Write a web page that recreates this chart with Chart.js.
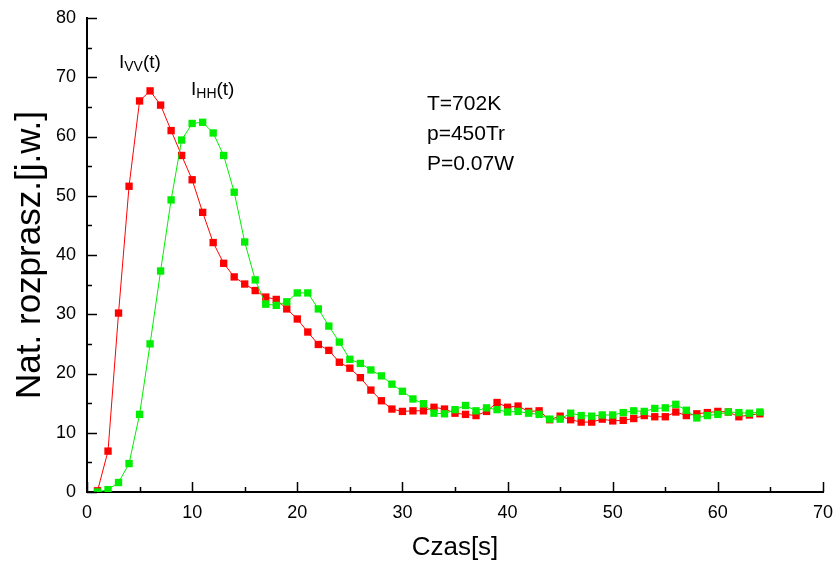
<!DOCTYPE html>
<html lang="pl">
<head>
  <meta charset="UTF-8">
  <title>Nat. rozprasz. - Czas</title>
  <script src="https://cdn.jsdelivr.net/npm/chart.js"></script>
  <style>
    body { margin: 0; background: white; }
    #wrap { width: 836px; height: 567px; }
  </style>
</head>
<body>
<div id="wrap"><canvas id="chart" width="836" height="567"></canvas></div>
<script>
  // czas [s]
  const timeS = [1, 2, 3, 4, 5, 6, 7, 8, 9, 10, 11, 12, 13, 14, 15, 16, 17, 18, 19, 20,
    21, 22, 23, 24, 25, 26, 27, 28, 29, 30, 31, 32, 33, 34, 35, 36, 37, 38, 39, 40,
    41, 42, 43, 44, 45, 46, 47, 48, 49, 50, 51, 52, 53, 54, 55, 56, 57, 58, 59, 60,
    61, 62, 63, 64];

  // I_VV(t) - czerwone
  const ivv = [0.2, 6.9, 30.2, 51.6, 66.0, 67.7, 65.3, 61.0, 56.8, 52.7, 47.2, 42.1, 38.6, 36.3, 35.1, 34.0, 32.9, 32.5, 30.9, 29.2,
    27.0, 24.9, 23.9, 21.9, 20.9, 19.3, 17.2, 15.4, 14.0, 13.6, 13.7, 13.7, 14.3, 14.0, 13.3, 13.1, 12.9, 13.6, 15.1, 14.3,
    14.5, 13.6, 13.7, 12.2, 12.8, 12.2, 11.8, 11.8, 12.3, 12.0, 12.1, 12.4, 12.9, 12.7, 12.7, 13.5, 12.9, 13.2, 13.4, 13.6,
    13.5, 12.7, 13.0, 13.2];

  // I_HH(t) - zielone
  const ihh = [0.0, 0.4, 1.6, 4.8, 13.1, 25.0, 37.3, 49.3, 59.4, 62.2, 62.4, 60.6, 56.8, 50.6, 42.2, 35.8, 31.7, 31.5, 32.1, 33.6,
    33.6, 30.9, 28.0, 25.3, 22.4, 21.7, 20.6, 19.6, 18.2, 17.0, 15.7, 14.9, 13.3, 13.2, 13.9, 14.6, 13.7, 14.2, 13.9, 13.5,
    13.6, 13.3, 13.1, 12.3, 12.3, 13.3, 12.9, 12.8, 13.0, 13.0, 13.4, 13.7, 13.6, 14.1, 14.2, 14.8, 13.8, 12.5, 12.9, 13.1,
    13.5, 13.4, 13.3, 13.5];

  const xTicks = [0, 10, 20, 30, 40, 50, 60, 70];
  const yTicks = [0, 10, 20, 30, 40, 50, 60, 70, 80];
  const params = ["T=702K", "p=450Tr", "P=0.07W"];

  const FONT = "'Liberation Sans', Arial, sans-serif";
  const RED = "#ff0000";
  const GREEN = "#00ee00";

  function toPoints(ys) {
    return timeS.map((t, i) => ({ x: t, y: ys[i] }));
  }

  // tekst z indeksem dolnym: I_VV(t)
  function subLabel(ctx, x, y, main, sub, tail) {
    ctx.font = "19px " + FONT;
    ctx.fillText(main, x, y);
    let w = ctx.measureText(main).width;
    ctx.font = "14px " + FONT;
    ctx.fillText(sub, x + w, y + 3);
    w += ctx.measureText(sub).width;
    ctx.font = "19px " + FONT;
    ctx.fillText(tail, x + w, y);
  }

  // krótkie znaczniki skierowane do środka + opisy
  const extras = {
    id: "extras",
    afterDraw(chart) {
      const ctx = chart.ctx;
      const xs = chart.scales.x, ys = chart.scales.y;
      const x0 = xs.left, y0 = ys.bottom;
      ctx.save();
      ctx.strokeStyle = "#000";
      ctx.lineWidth = 1.5;
      ctx.beginPath();
      for (let v = 0; v <= 70; v += 5) {
        const px = Math.round(xs.getPixelForValue(v)) + 0.5;
        const len = v % 10 === 0 ? 10 : 5;
        ctx.moveTo(px, y0);
        ctx.lineTo(px, y0 - len);
      }
      for (let v = 0; v <= 80; v += 5) {
        const py = Math.round(ys.getPixelForValue(v)) + 0.5;
        const len = v % 10 === 0 ? 10 : 5;
        ctx.moveTo(x0, py);
        ctx.lineTo(x0 + len, py);
      }
      ctx.stroke();

      ctx.fillStyle = "#000";
      ctx.textBaseline = "alphabetic";
      ctx.textAlign = "left";
      subLabel(ctx, 119, 68, "I", "VV", "(t)");
      subLabel(ctx, 191, 95, "I", "HH", "(t)");
      ctx.font = "21px " + FONT;
      params.forEach((s, i) => ctx.fillText(s, 427, 110 + i * 30));
      ctx.restore();
    }
  };

  new Chart(document.getElementById("chart"), {
    type: "scatter",
    data: {
      datasets: [
        {
          label: "I_HH(t)",
          data: toPoints(ihh),
          showLine: true,
          borderColor: GREEN,
          backgroundColor: GREEN,
          borderWidth: 1,
          pointStyle: "rect",
          pointRadius: 5.2,
          pointBorderWidth: 0,
          order: 0
        },
        {
          label: "I_VV(t)",
          data: toPoints(ivv),
          showLine: true,
          borderColor: RED,
          backgroundColor: RED,
          borderWidth: 1,
          pointStyle: "rect",
          pointRadius: 5.2,
          pointBorderWidth: 0,
          order: 1
        }
      ]
    },
    options: {
      responsive: false,
      animation: false,
      layout: { padding: { left: 0, right: 13, top: 18, bottom: 0 } },
      plugins: { legend: { display: false }, tooltip: { enabled: false } },
      scales: {
        x: {
          type: "linear",
          min: 0, max: 70,
          afterBuildTicks: s => { s.ticks = xTicks.map(v => ({ value: v })); },
          afterFit: s => { s.height = 75; s.paddingLeft = 0; s.paddingRight = 0; },
          grid: { display: false, drawTicks: false },
          border: { display: true, color: "#000", width: 2 },
          ticks: { color: "#000", padding: 10, maxRotation: 0, font: { family: FONT, size: 18 } },
          title: { display: true, text: "Czas[s]", color: "#000", padding: { top: 7 }, font: { family: FONT, size: 26 } }
        },
        y: {
          type: "linear",
          min: 0, max: 80,
          afterBuildTicks: s => { s.ticks = yTicks.map(v => ({ value: v })); },
          afterFit: s => { s.width = 87; s.paddingTop = 0; s.paddingBottom = 0; },
          grid: { display: false, drawTicks: false },
          border: { display: true, color: "#000", width: 2 },
          ticks: { color: "#000", padding: 11, font: { family: FONT, size: 18 } },
          title: { display: true, text: "Nat. rozprasz.[j.w.]", color: "#000", padding: { top: 9 }, font: { family: FONT, size: 35 } }
        }
      }
    },
    plugins: [extras]
  });
</script>
</body>
</html>
